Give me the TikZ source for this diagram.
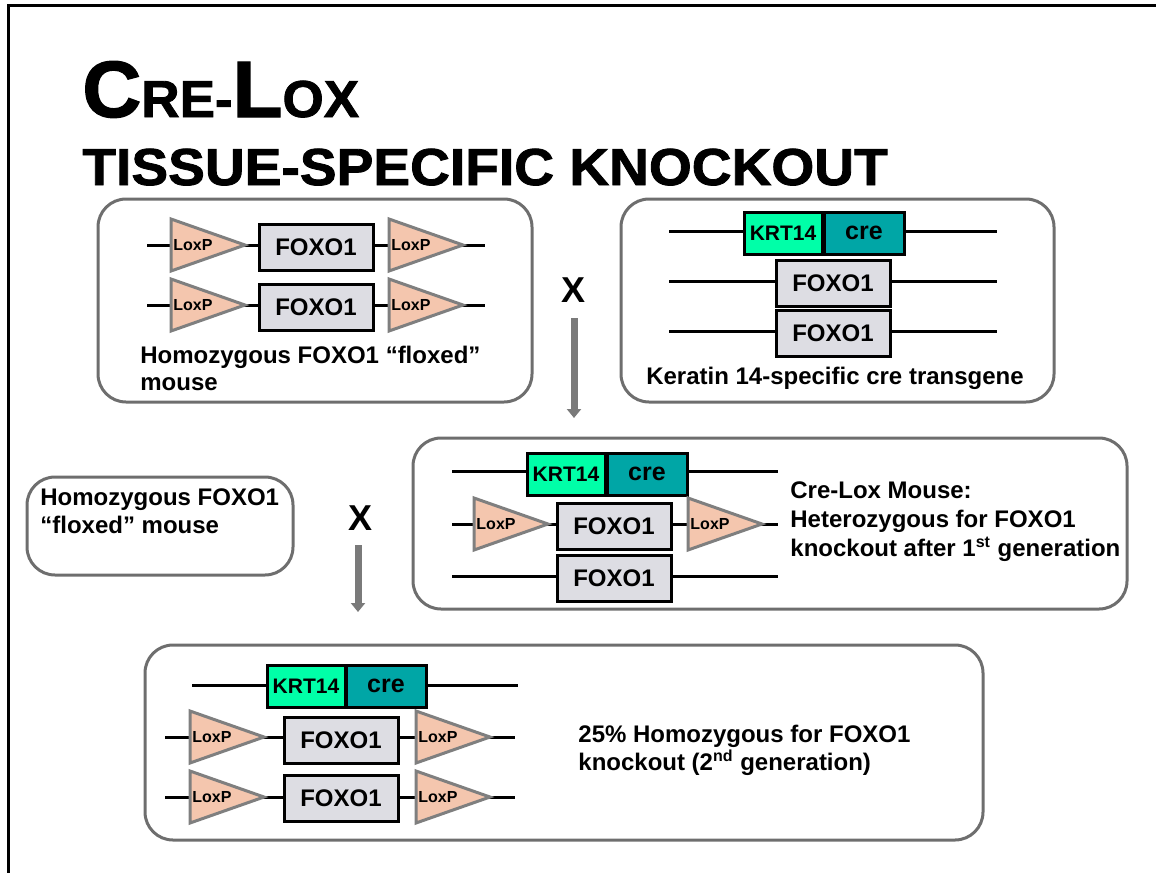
\documentclass[tikz,border=0pt]{standalone}
\usepackage{fontspec}
\setmainfont{Liberation Sans}
\newfontfamily\heavyfont[FakeBold=1.6]{Liberation Sans Bold}
\usetikzlibrary{arrows.meta}

\definecolor{panelgray}{HTML}{6E6E6E}
\definecolor{loxfill}{HTML}{F4C6AE}
\definecolor{loxedge}{HTML}{7F7F7F}
\definecolor{foxfill}{HTML}{DDDDE3}
\definecolor{krtfill}{HTML}{00FFA8}
\definecolor{crefill}{HTML}{00A6A6}
\definecolor{arrowgray}{HTML}{7A7A7A}

\tikzset{
  panel/.style={draw=panelgray, line width=1.5pt, rounded corners=14pt},
  dna/.style={line width=1.5pt},
  foxo/.style={draw, line width=1.5pt, fill=foxfill, minimum width=57pt, minimum height=23pt, inner sep=0pt, font=\bfseries\fontsize{12}{14}\selectfont},
  krt/.style={draw, line width=1.5pt, fill=krtfill, minimum width=39pt, minimum height=21pt, inner sep=0pt, font=\bfseries\fontsize{10.5}{12}\selectfont},
  cre/.style={draw, line width=1.5pt, fill=crefill, minimum width=40pt, minimum height=21pt, inner sep=0pt, font=\bfseries\fontsize{12.5}{14}\selectfont},
  loxtri/.style={fill=loxfill, draw=loxedge, line width=1.5pt, line join=miter},
  loxlabel/.style={inner sep=0pt, font=\bfseries\fontsize{8}{9}\selectfont},
  caption/.style={inner sep=0pt, anchor=base west, font=\bfseries\fontsize{12}{14}\selectfont},
  cross/.style={inner sep=0pt, font=\bfseries\fontsize{18}{20}\selectfont},
  down/.style={draw=arrowgray, line width=3.5pt, -{Triangle[width=7pt,length=4.5pt]}}
}

% LoxP site: left edge x, line y, label name
\newcommand{\loxp}[3]{
  \filldraw[loxtri] (#1,#2-26) -- (#1,#2+26) -- (#1+74,#2) -- cycle;
  \node[loxlabel] (#3) at (#1+22,#2) {LoxP};
}

\begin{document}
\begin{tikzpicture}[x=0.5pt,y=-0.5pt]
\useasboundingbox (0,0) rectangle (1156,873);

% slide frame
\draw[line width=1.5pt] (1156,5) -- (8,5) -- (8,873);

% title
\node[inner sep=0pt, anchor=base west] (title) at (82,117) {\heavyfont\scalebox{1.02}[1]{\fontsize{40}{44}\selectfont C\fontsize{26}{28}\selectfont RE-\fontsize{40}{44}\selectfont L\fontsize{26}{28}\selectfont OX}};
\node[inner sep=0pt, anchor=base west] (subtitle) at (82,185) {\heavyfont\fontsize{26}{28}\selectfont\scalebox{1.06}[1]{TISSUE-SPECIFIC KNOCKOUT}};

% floxed parent
\draw[panel] (98,199) rectangle (532,402);
\foreach \y in {245,305}{
  \draw[dna] (147,\y) -- (485,\y);
}
\loxp{171}{245}{la1}
\node[foxo] (fa1) at (316,247) {FOXO1};
\loxp{389}{245}{la2}
\loxp{171}{305}{la3}
\node[foxo] (fa2) at (316,307) {FOXO1};
\loxp{389}{305}{la4}
\node[caption] (capa1) at (140,363) {Homozygous FOXO1 “floxed”};
\node[caption] (capa2) at (140,390) {mouse};

% cre parent
\draw[panel] (621,199) rectangle (1054,402);
\foreach \y in {231,281,331}{
  \draw[dna] (669,\y) -- (997,\y);
}
\node[krt] (kb1) at (783,233) {KRT14};
\node[cre] (cb1) at (864,233) {cre};
\node[foxo] (fb1) at (833,283) {FOXO1};
\node[foxo] (fb2) at (833,333) {FOXO1};
\node[caption, anchor=base] (capb) at (835,384) {Keratin 14-specific cre transgene};

% first cross
\node[cross] (x1) at (573,290) {X};
\coordinate (x1top) at (574,318);
\coordinate (x1tip) at (574,418);
\draw[down] (x1top) -- (x1tip);

% second floxed parent
\draw[panel] (27,477) rectangle (293,575);
\node[caption] (capd1) at (40,505) {Homozygous FOXO1};
\node[caption] (capd2) at (40,533) {“floxed” mouse};

% second cross
\node[cross] (x2) at (361,518) {X};
\coordinate (x2top) at (358,545);
\coordinate (x2tip) at (358,612);
\draw[down] (x2top) -- (x2tip);

% first generation
\draw[panel] (413,438) rectangle (1127,609);
\foreach \y in {471,524,576}{
  \draw[dna] (452,\y) -- (778,\y);
}
\node[krt] (kc1) at (566,474) {KRT14};
\node[cre] (cc1) at (647,474) {cre};
\loxp{474}{524}{lc1}
\node[foxo] (fc1) at (614,526) {FOXO1};
\loxp{688}{524}{lc2}
\node[foxo] (fc2) at (614,578) {FOXO1};
\node[caption] (capc1) at (790,498) {Cre-Lox Mouse:};
\node[caption] (capc2) at (790,527) {Heterozygous for FOXO1};
\node[caption] (capc3) at (790,556) {knockout after 1\textsuperscript{st} generation};

% second generation
\draw[panel] (145,645) rectangle (983,840);
\draw[dna] (192,685) -- (518,685);
\foreach \y in {737,797}{
  \draw[dna] (165,\y) -- (515,\y);
}
\node[krt] (ke1) at (306,686) {KRT14};
\node[cre] (ce1) at (386,686) {cre};
\loxp{190}{737}{le1}
\node[foxo] (fe1) at (341,740) {FOXO1};
\loxp{416}{737}{le2}
\loxp{190}{797}{le3}
\node[foxo] (fe2) at (341,798) {FOXO1};
\loxp{416}{797}{le4}
\node[caption] (cape1) at (578,742) {25\% Homozygous for FOXO1};
\node[caption] (cape2) at (578,770) {knockout (2\textsuperscript{nd} generation)};
\end{tikzpicture}
\end{document}
